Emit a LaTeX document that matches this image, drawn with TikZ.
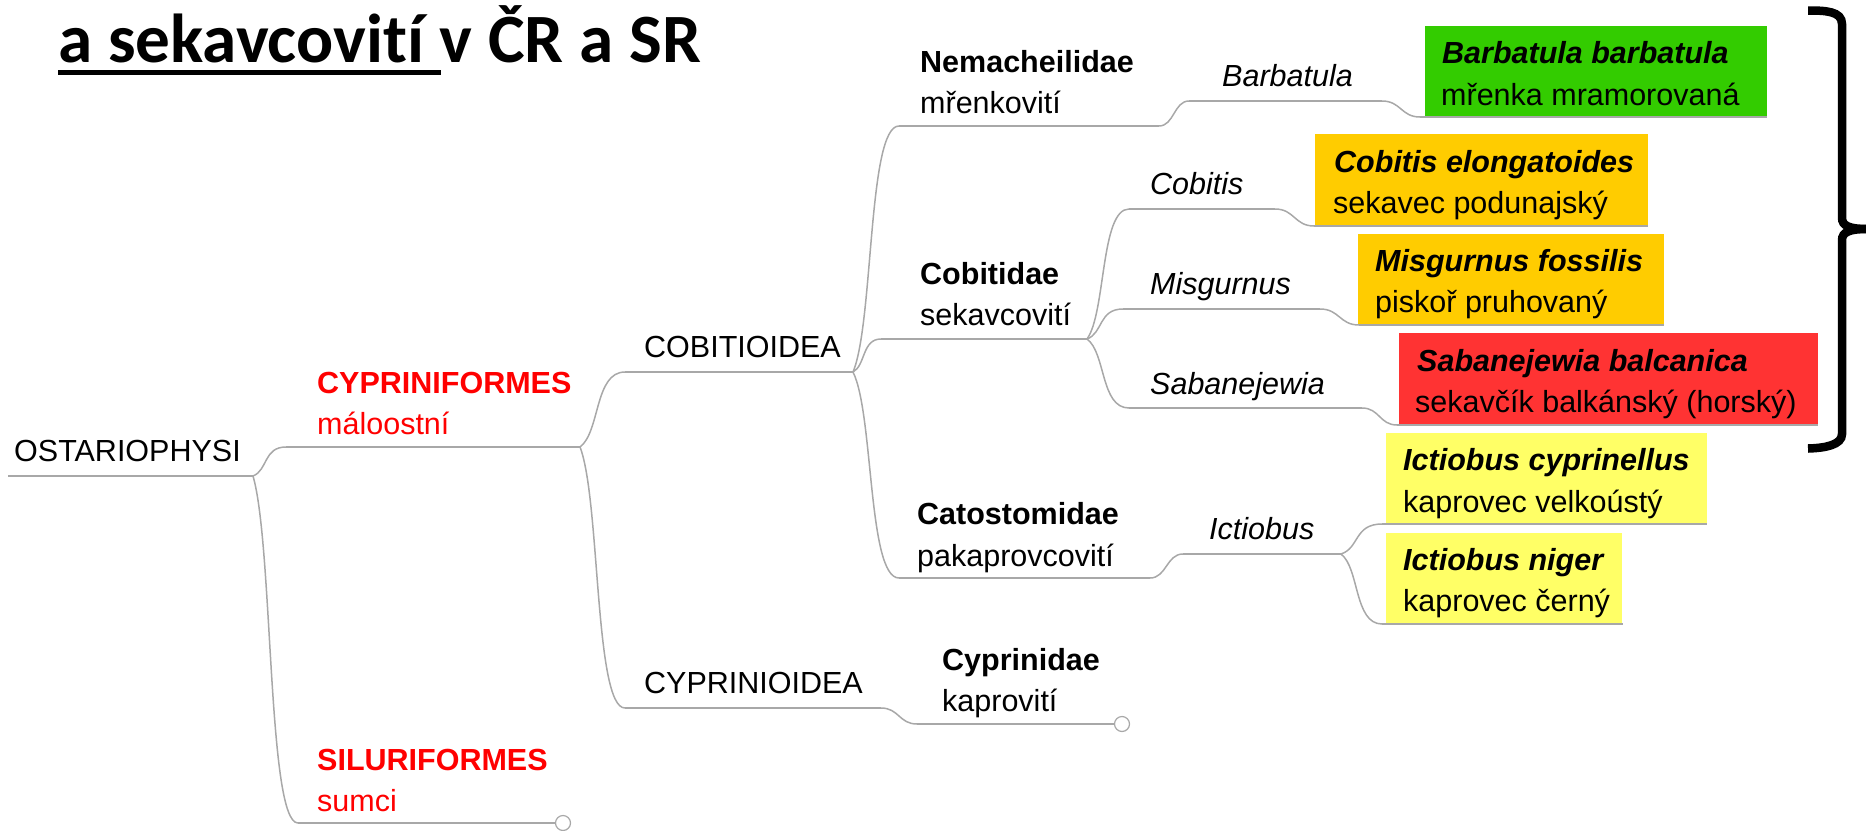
\documentclass[tikz,border=0pt]{standalone}
\usepackage{fontspec}
\setmainfont{Liberation Sans}
\newfontfamily\titlefont[Ligatures=NoCommon]{Carlito}
\usetikzlibrary{calc}
\definecolor{branch}{HTML}{A8A8A8}
\definecolor{boxgreen}{HTML}{33CC00}
\definecolor{boxorange}{HTML}{FFCC00}
\definecolor{boxred}{HTML}{FF3333}
\definecolor{boxyellow}{HTML}{FFFF66}
\tikzset{
  x=1pt,y=-1pt,
  lab/.style={anchor=base west,inner sep=0pt,font=\fontsize{30.5}{31}\selectfont},
  bold/.style={lab,font=\fontsize{30.5}{31}\selectfont\bfseries},
  genus/.style={lab,font=\fontsize{30.5}{31}\selectfont\itshape},
  species/.style={lab,font=\fontsize{30.5}{31}\selectfont\bfseries\itshape},
  redtext/.style={text=red},
  conn/.style={draw=branch,line width=1.5pt},
  tipcircle/.style={circle,draw=branch,fill=white,line width=1.2pt,minimum size=15pt,inner sep=0pt},
  bracket/.style={draw=black,line width=8.5pt}
}
% fork: from junction to the start of a horizontal limb
\newcommand{\bough}[2]{\draw[conn] let \p1=(#1),\p2=(#2) in (\p1) .. controls (\x1+0.45*\x2-0.45*\x1,\y1+0.2*\y2-0.2*\y1) and (\x1+0.32*\x2-0.32*\x1,\y2) .. (\p2);}
% step: S-shaped joint between two horizontal limbs
\newcommand{\stepjoint}[2]{\draw[conn] let \p1=(#1),\p2=(#2) in (\p1) .. controls (\x1+0.5*\x2-0.5*\x1,\y1) and (\x1+0.5*\x2-0.5*\x1,\y2) .. (\p2);}
\begin{document}
\begin{tikzpicture}
\useasboundingbox (0,0) rectangle (1866,830);

% species boxes
\fill[boxgreen]  (1425,26) rectangle (1767,117);
\fill[boxorange] (1315,134) rectangle (1648,226);
\fill[boxorange] (1358,234) rectangle (1664,325);
\fill[boxred]    (1399,333) rectangle (1818,425);
\fill[boxyellow] (1386,433) rectangle (1707,524);
\fill[boxyellow] (1386,533) rectangle (1622,624);

% connector points
\coordinate (r0) at (8,476);   \coordinate (r1) at (253,476);
\coordinate (c0) at (286,447); \coordinate (c1) at (580,447);
\coordinate (s0) at (298,823); \coordinate (s1) at (555,823);
\coordinate (co0) at (625,372);\coordinate (co1) at (853,372);
\coordinate (cy0) at (625,708);\coordinate (cy1) at (881,708);
\coordinate (cd0) at (917,724);\coordinate (cd1) at (1115,724);
\coordinate (ne0) at (899,126);\coordinate (ne1) at (1159,126);
\coordinate (ba0) at (1189,101);\coordinate (ba1) at (1382,101);
\coordinate (bs0) at (1420,117);\coordinate (bs1) at (1767,117);
\coordinate (cb0) at (881,339);\coordinate (cb1) at (1087,339);
\coordinate (ca0) at (899,578);\coordinate (ca1) at (1150,578);
\coordinate (ic0) at (1183,554);\coordinate (ic1) at (1341,554);
\coordinate (y10) at (1382,524);\coordinate (y11) at (1707,524);
\coordinate (y20) at (1382,624);\coordinate (y21) at (1623,624);
\coordinate (g10) at (1129,209);\coordinate (g11) at (1275,209);
\coordinate (o10) at (1314,226);\coordinate (o11) at (1648,226);
\coordinate (g20) at (1123,309);\coordinate (g21) at (1320,309);
\coordinate (o20) at (1359,325);\coordinate (o21) at (1664,325);
\coordinate (g30) at (1129,408);\coordinate (g31) at (1362,408);
\coordinate (o30) at (1397,425);\coordinate (o31) at (1818,425);

% limbs
\foreach \a/\b in {r0/r1,c0/c1,s0/s1,co0/co1,cy0/cy1,cd0/cd1,ne0/ne1,ba0/ba1,bs0/bs1,cb0/cb1,ca0/ca1,ic0/ic1,y10/y11,y20/y21,g10/g11,o10/o11,g20/g21,o20/o21,g30/g31,o30/o31}
  {\draw[conn] (\a) -- (\b);}
% forks
\bough{r1}{c0}\bough{r1}{s0}
\bough{c1}{co0}\bough{c1}{cy0}
\bough{co1}{ne0}\bough{co1}{cb0}\bough{co1}{ca0}
\bough{cb1}{g10}\bough{cb1}{g20}\bough{cb1}{g30}
\bough{ic1}{y10}\bough{ic1}{y20}
% steps
\stepjoint{cy1}{cd0}\stepjoint{ne1}{ba0}\stepjoint{ba1}{bs0}
\stepjoint{ca1}{ic0}\stepjoint{g11}{o10}\stepjoint{g21}{o20}\stepjoint{g31}{o30}

% open tips
\node[tipcircle] (tip1) at (563,823) {};
\node[tipcircle] (tip2) at (1122,724) {};

% brace
\draw[bracket] (1808,10.5) .. controls (1825,10.5) and (1842,11) .. (1842,24) -- (1842,218) .. controls (1842,226) and (1850,229) .. (1867,229);
\draw[bracket] (1867,229) .. controls (1850,229) and (1842,232) .. (1842,240) -- (1842,434) .. controls (1842,445) and (1825,448) .. (1808,448.5);

% title
\node[anchor=base west,inner sep=0pt,font=\titlefont\fontsize{69.2}{70}\selectfont\bfseries] (title) at (58,62) {a sekavcovití v ČR a SR};
\fill[black] (58,70) rectangle (441,75);

% labels
\node[lab] (ost) at (14,461) {OSTARIOPHYSI};
\node[bold,redtext] (cyf) at (317,393) {CYPRINIFORMES};
\node[lab,redtext] (cyf2) at (317,434) {máloostní};
\node[bold,redtext] (sil) at (317,770) {SILURIFORMES};
\node[lab,redtext] (sil2) at (317,811) {sumci};
\node[lab] (coi) at (644,357) {COBITIOIDEA};
\node[lab] (cyi) at (644,693) {CYPRINIOIDEA};
\node[bold] (nem) at (920,72) {Nemacheilidae};
\node[lab] (nem2) at (920,113) {mřenkovití};
\node[bold] (cob) at (920,284) {Cobitidae};
\node[lab] (cob2) at (920,325) {sekavcovití};
\node[bold] (cat) at (917,524) {Catostomidae};
\node[lab] (cat2) at (917,566) {pakaprovcovití};
\node[bold] (cyp) at (942,670) {Cyprinidae};
\node[lab] (cyp2) at (942,711) {kaprovití};
\node[genus] (gb) at (1222,86) {Barbatula};
\node[genus] (gc) at (1150,194) {Cobitis};
\node[genus] (gm) at (1150,294) {Misgurnus};
\node[genus] (gs) at (1150,394) {Sabanejewia};
\node[genus] (gi) at (1209,539) {Ictiobus};
\node[species] (s1a) at (1442,63) {Barbatula barbatula};
\node[lab] (s1b) at (1441,105) {mřenka mramorovaná};
\node[species] (s2a) at (1334,172) {Cobitis elongatoides};
\node[lab] (s2b) at (1333,213) {sekavec podunajský};
\node[species] (s3a) at (1375,271) {Misgurnus fossilis};
\node[lab] (s3b) at (1375,312) {piskoř pruhovaný};
\node[species] (s4a) at (1417,371) {Sabanejewia balcanica};
\node[lab] (s4b) at (1415,412) {sekavčík balkánský (horský)};
\node[species] (s5a) at (1403,470) {Ictiobus cyprinellus};
\node[lab] (s5b) at (1403,512) {kaprovec velkoústý};
\node[species] (s6a) at (1403,570) {Ictiobus niger};
\node[lab] (s6b) at (1403,611) {kaprovec černý};
\end{tikzpicture}
\end{document}
